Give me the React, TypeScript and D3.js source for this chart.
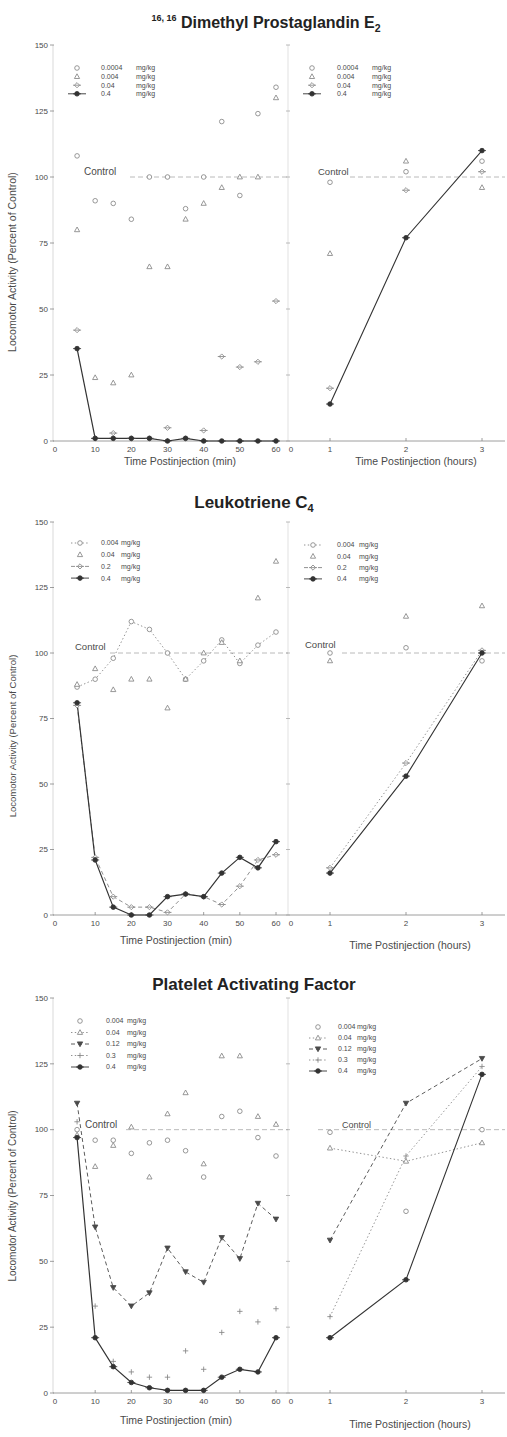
import React from "react";
import * as d3 from "d3";

// Shared axes
const minutes = [5, 10, 15, 20, 25, 30, 35, 40, 45, 50, 55, 60];
const hours = [1, 2, 3];
const yTicks = [0, 25, 50, 75, 100, 125, 150];
const minTicks = [10, 20, 30, 40, 50, 60];
const hourTicks = [1, 2, 3];

// 16,16-dimethyl prostaglandin E2 (percent of control)
const pgeDoses = ["0.0004", "0.004", "0.04", "0.4"];
const pgeMinA = [108, 91, 90, 84, 100, 100, 88, 100, 121, 93, 124, 134];
const pgeMinB = [80, 24, 22, 25, 66, 66, 84, 90, 96, 100, 100, 130];
const pgeMinC = [42, 1, 3, 1, 1, 5, 1, 4, 32, 28, 30, 53];
const pgeMinD = [35, 1, 1, 1, 1, 0, 1, 0, 0, 0, 0, 0];
const pgeHrA = [98, 102, 106];
const pgeHrB = [71, 106, 96];
const pgeHrC = [20, 95, 102];
const pgeHrD = [14, 77, 110];

// Leukotriene C4
const ltDoses = ["0.004", "0.04", "0.2", "0.4"];
const ltMinA = [87, 90, 98, 112, 109, 100, 90, 97, 105, 96, 103, 108];
const ltMinB = [88, 94, 86, 90, 90, 79, 90, 100, 104, 97, 121, 135];
const ltMinC = [80, 22, 7, 3, 3, 1, 8, 7, 4, 11, 21, 23];
const ltMinD = [81, 21, 3, 0, 0, 7, 8, 7, 16, 22, 18, 28];
const ltHrA = [100, 102, 97];
const ltHrB = [97, 114, 118];
const ltHrC = [18, 58, 101];
const ltHrD = [16, 53, 100];

// Platelet activating factor
const pafDoses = ["0.004", "0.04", "0.12", "0.3", "0.4"];
const pafMinA = [100, 96, 96, 91, 95, 96, 92, 82, 105, 107, 97, 90];
const pafMinB = [98, 86, 94, 101, 82, 106, 114, 87, 128, 128, 105, 102];
const pafMinC = [110, 63, 40, 33, 38, 55, 46, 42, 59, 51, 72, 66];
const pafMinD = [103, 33, 12, 8, 6, 6, 16, 9, 23, 31, 27, 32];
const pafMinE = [97, 21, 10, 4, 2, 1, 1, 1, 6, 9, 8, 21];
const pafHrA = [99, 69, 100];
const pafHrB = [93, 88, 95];
const pafHrC = [58, 110, 127];
const pafHrD = [29, 90, 124];
const pafHrE = [21, 43, 121];

const FONT = "'Liberation Sans', Arial, Helvetica, sans-serif";
const INK = "#333333";
const MID = "#858585";
const LIGHT = "#a8a8a8";
const TEXT = "#4a4a4a";

type MarkerKind = "circle" | "triangle" | "diamond" | "dot" | "invtri" | "cross";
type LineKind = "solid" | "dashed" | "dotted" | null;

interface SeriesDef {
  dose: string;
  min: number[];
  hr: number[];
  marker: MarkerKind;
  minLine: LineKind;
  hrLine: LineKind;
  color: string;
}

interface LegendCfg {
  sx: number;
  dx: number;
  mx: number;
  y: number;
  step: number;
}

interface PanelDef {
  title: React.ReactNode;
  y0: number;
  y150: number;
  series: SeriesDef[];
  legendL: LegendCfg;
  legendR: LegendCfg;
  controlL: { tx: number; ty: number; x1: number; size: number };
  controlR: { tx: number; ty: number; x1: number; size: number };
  axisTitle: { x: number; y: number };
  axisTitleHr: { x: number; y: number };
  yTitle: { y: number; size: number };
}

const dash = (k: LineKind) =>
  k === "dashed" ? "4 3" : k === "dotted" ? "1.4 2.4" : undefined;

function Marker({ kind, x, y, color }: { kind: MarkerKind; x: number; y: number; color: string }) {
  const sw = 0.85;
  switch (kind) {
    case "circle":
      return <circle cx={x} cy={y} r={2.3} fill="#fff" stroke={color} strokeWidth={sw} />;
    case "triangle":
      return (
        <path
          d={`M${x},${y - 2.8}L${x + 2.6},${y + 1.9}L${x - 2.6},${y + 1.9}Z`}
          fill="#fff"
          stroke={color}
          strokeWidth={sw}
        />
      );
    case "diamond":
      return (
        <g stroke={color} strokeWidth={sw}>
          <path d={`M${x},${y - 2.6}L${x + 2.6},${y}L${x},${y + 2.6}L${x - 2.6},${y}Z`} fill="#fff" />
          <line x1={x - 4} x2={x + 4} y1={y} y2={y} />
        </g>
      );
    case "dot":
      return (
        <g stroke={color} strokeWidth={sw}>
          <circle cx={x} cy={y} r={2.3} fill={color} />
          <line x1={x - 4} x2={x + 4} y1={y} y2={y} />
        </g>
      );
    case "invtri":
      return (
        <path
          d={`M${x - 2.7},${y - 2.1}L${x + 2.7},${y - 2.1}L${x},${y + 2.7}Z`}
          fill={color}
          stroke={color}
          strokeWidth={sw}
        />
      );
    case "cross":
    default:
      return (
        <g stroke={color} strokeWidth={sw}>
          <line x1={x - 2.7} x2={x + 2.7} y1={y} y2={y} />
          <line x1={x} x2={x} y1={y - 2.7} y2={y + 2.7} />
        </g>
      );
  }
}

function Legend({ series, cfg }: { series: SeriesDef[]; cfg: LegendCfg }) {
  return (
    <g fontSize={7} fill={TEXT}>
      {series.map((s, i) => {
        const yy = cfg.y + i * cfg.step;
        const line = s.minLine || s.hrLine;
        return (
          <g key={s.dose}>
            {line && (
              <line
                x1={cfg.sx - 9}
                x2={cfg.sx + 9}
                y1={yy}
                y2={yy}
                stroke={s.color}
                strokeWidth={0.9}
                strokeDasharray={dash(line)}
              />
            )}
            <Marker kind={s.marker} x={cfg.sx} y={yy} color={s.color} />
            <text x={cfg.dx} y={yy + 2.4}>{s.dose}</text>
            <text x={cfg.mx} y={yy + 2.4}>mg/kg</text>
          </g>
        );
      })}
    </g>
  );
}

function Panel({ p }: { p: PanelDef }) {
  const y = d3.scaleLinear().domain([0, 150]).range([p.y0, p.y150]);
  const xm = d3.scaleLinear().domain([0, 60]).range([59, 276]);
  const xh = d3.scaleLinear().domain([1, 3]).range([330, 482]);
  const lineMin = d3
    .line<number>()
    .x((_, i) => xm(minutes[i]))
    .y((v) => y(v));
  const lineHr = d3
    .line<number>()
    .x((_, i) => xh(hours[i]))
    .y((v) => y(v));
  const axisX = 53;
  const divX = 288;

  return (
    <g>
      {p.title}

      {/* frame: left axis, divider, baseline */}
      <line x1={axisX} x2={axisX} y1={y(150)} y2={y(0)} stroke="#c8c8c8" strokeWidth={0.7} />
      <line x1={divX} x2={divX} y1={y(150)} y2={y(0)} stroke="#d4d4d4" strokeWidth={0.7} />
      <line x1={axisX} x2={505} y1={y(0)} y2={y(0)} stroke={MID} strokeWidth={0.8} />

      {yTicks.map((t) => (
        <g key={t}>
          <line x1={axisX - 3} x2={axisX + 1} y1={y(t)} y2={y(t)} stroke={MID} strokeWidth={0.8} />
          <line x1={divX - 2} x2={divX + 2} y1={y(t)} y2={y(t)} stroke={LIGHT} strokeWidth={0.8} />
          <text x={axisX - 5} y={y(t) + 2.8} textAnchor="end" fontSize={8} fill={TEXT}>
            {t}
          </text>
        </g>
      ))}

      {/* x ticks */}
      <text x={xm(0) - 4} y={y(0) + 11} textAnchor="middle" fontSize={8} fill={TEXT}>0</text>
      {minTicks.map((t) => (
        <g key={t}>
          <line x1={xm(t)} x2={xm(t)} y1={y(0) - 3} y2={y(0)} stroke={MID} strokeWidth={0.8} />
          <text x={xm(t)} y={y(0) + 11} textAnchor="middle" fontSize={8} fill={TEXT}>
            {t}
          </text>
        </g>
      ))}
      <text x={divX + 3} y={y(0) + 11} textAnchor="middle" fontSize={8} fill={TEXT}>0</text>
      {hourTicks.map((t) => (
        <g key={t}>
          <line x1={xh(t)} x2={xh(t)} y1={y(0) - 3} y2={y(0)} stroke={MID} strokeWidth={0.8} />
          <text x={xh(t)} y={y(0) + 11} textAnchor="middle" fontSize={8} fill={TEXT}>
            {t}
          </text>
        </g>
      ))}

      <text x={p.axisTitle.x} y={p.axisTitle.y} textAnchor="middle" fontSize={10.5} fill={TEXT}>
        Time Postinjection (min)
      </text>
      <text x={p.axisTitleHr.x} y={p.axisTitleHr.y} textAnchor="middle" fontSize={10.5} fill={TEXT}>
        Time Postinjection (hours)
      </text>
      <text
        transform={`translate(16,${p.yTitle.y}) rotate(-90)`}
        textAnchor="middle"
        fontSize={p.yTitle.size}
        fill={TEXT}
      >
        Locomotor Activity (Percent of Control)
      </text>

      {/* control reference at 100 % */}
      <text x={p.controlL.tx} y={p.controlL.ty} fontSize={p.controlL.size} fill={TEXT}>
        Control
      </text>
      <line
        x1={p.controlL.x1}
        x2={divX}
        y1={y(100)}
        y2={y(100)}
        stroke={LIGHT}
        strokeWidth={0.8}
        strokeDasharray="5 3"
      />
      <text x={p.controlR.tx} y={p.controlR.ty} fontSize={p.controlR.size} fill={TEXT}>
        Control
      </text>
      <line
        x1={p.controlR.x1}
        x2={505}
        y1={y(100)}
        y2={y(100)}
        stroke={LIGHT}
        strokeWidth={0.8}
        strokeDasharray="5 3"
      />

      {/* series lines */}
      {p.series.map((s) => (
        <g key={"l" + s.dose} fill="none" stroke={s.color}>
          {s.minLine && (
            <path
              d={lineMin(s.min) || ""}
              strokeWidth={s.minLine === "solid" ? 1.2 : 0.9}
              strokeDasharray={dash(s.minLine)}
            />
          )}
          {s.hrLine && (
            <path
              d={lineHr(s.hr) || ""}
              strokeWidth={s.hrLine === "solid" ? 1.1 : 0.9}
              strokeDasharray={dash(s.hrLine)}
            />
          )}
        </g>
      ))}

      {/* series markers */}
      {p.series.map((s) => (
        <g key={"m" + s.dose}>
          {s.min.map((v, i) => (
            <Marker key={"a" + i} kind={s.marker} x={xm(minutes[i])} y={y(v)} color={s.color} />
          ))}
          {s.hr.map((v, i) => (
            <Marker key={"b" + i} kind={s.marker} x={xh(hours[i])} y={y(v)} color={s.color} />
          ))}
        </g>
      ))}

      <Legend series={p.series} cfg={p.legendL} />
      <Legend series={p.series} cfg={p.legendR} />
    </g>
  );
}

const panels: PanelDef[] = [
  {
    title: (
      <text x={266} y={28} textAnchor="middle" fontSize={16} fontWeight="bold" fill="#222">
        <tspan fontSize={9} dy={-7}>16, 16</tspan>
        <tspan dy={7}> Dimethyl Prostaglandin E</tspan>
        <tspan fontSize={10.5} dy={4}>2</tspan>
      </text>
    ),
    y0: 441,
    y150: 45,
    series: [
      { dose: pgeDoses[0], min: pgeMinA, hr: pgeHrA, marker: "circle", minLine: null, hrLine: null, color: MID },
      { dose: pgeDoses[1], min: pgeMinB, hr: pgeHrB, marker: "triangle", minLine: null, hrLine: null, color: MID },
      { dose: pgeDoses[2], min: pgeMinC, hr: pgeHrC, marker: "diamond", minLine: null, hrLine: null, color: MID },
      { dose: pgeDoses[3], min: pgeMinD, hr: pgeHrD, marker: "dot", minLine: "solid", hrLine: "solid", color: INK },
    ],
    legendL: { sx: 77, dx: 101, mx: 136, y: 68, step: 8.6 },
    legendR: { sx: 312, dx: 337, mx: 372, y: 68, step: 8.6 },
    controlL: { tx: 84, ty: 175, x1: 130, size: 10 },
    controlR: { tx: 318, ty: 175, x1: 350, size: 9.5 },
    axisTitle: { x: 180, y: 465 },
    axisTitleHr: { x: 416, y: 465 },
    yTitle: { y: 262, size: 10.5 },
  },
  {
    title: (
      <text x={254} y={508} textAnchor="middle" fontSize={17} fontWeight="bold" fill="#222">
        <tspan>Leukotriene C</tspan>
        <tspan fontSize={11} dy={4}>4</tspan>
      </text>
    ),
    y0: 915,
    y150: 522,
    series: [
      { dose: ltDoses[0], min: ltMinA, hr: ltHrA, marker: "circle", minLine: "dotted", hrLine: null, color: MID },
      { dose: ltDoses[1], min: ltMinB, hr: ltHrB, marker: "triangle", minLine: null, hrLine: null, color: MID },
      { dose: ltDoses[2], min: ltMinC, hr: ltHrC, marker: "diamond", minLine: "dashed", hrLine: "dotted", color: MID },
      { dose: ltDoses[3], min: ltMinD, hr: ltHrD, marker: "dot", minLine: "solid", hrLine: "solid", color: INK },
    ],
    legendL: { sx: 80, dx: 101, mx: 121, y: 543, step: 11.7 },
    legendR: { sx: 313, dx: 337, mx: 359, y: 545, step: 11.3 },
    controlL: { tx: 75, ty: 650, x1: 110, size: 9.5 },
    controlR: { tx: 305, ty: 648, x1: 342, size: 9.5 },
    axisTitle: { x: 176, y: 944 },
    axisTitleHr: { x: 410, y: 949 },
    yTitle: { y: 736, size: 9.5 },
  },
  {
    title: (
      <text x={254} y={990} textAnchor="middle" fontSize={17} fontWeight="bold" fill="#222">
        Platelet Activating Factor
      </text>
    ),
    y0: 1393,
    y150: 998,
    series: [
      { dose: pafDoses[0], min: pafMinA, hr: pafHrA, marker: "circle", minLine: null, hrLine: null, color: MID },
      { dose: pafDoses[1], min: pafMinB, hr: pafHrB, marker: "triangle", minLine: null, hrLine: "dotted", color: MID },
      { dose: pafDoses[2], min: pafMinC, hr: pafHrC, marker: "invtri", minLine: "dashed", hrLine: "dashed", color: "#4a4a4a" },
      { dose: pafDoses[3], min: pafMinD, hr: pafHrD, marker: "cross", minLine: null, hrLine: "dotted", color: MID },
      { dose: pafDoses[4], min: pafMinE, hr: pafHrE, marker: "dot", minLine: "solid", hrLine: "solid", color: INK },
    ],
    legendL: { sx: 80, dx: 106, mx: 127, y: 1021, step: 11.5 },
    legendR: { sx: 318, dx: 338, mx: 357, y: 1027, step: 11 },
    controlL: { tx: 85, ty: 1128, x1: 126, size: 10 },
    controlR: { tx: 342, ty: 1128, x1: 318, size: 9 },
    axisTitle: { x: 176, y: 1424 },
    axisTitleHr: { x: 410, y: 1428 },
    yTitle: { y: 1196, size: 10 },
  },
];

export default function App() {
  return (
    <svg
      width={507}
      height={1437}
      viewBox="0 0 507 1437"
      style={{ position: "absolute", left: 0, top: 0, display: "block" }}
      fontFamily={FONT}
    >
      <rect width={507} height={1437} fill="#fff" />
      {panels.map((p, i) => (
        <Panel key={i} p={p} />
      ))}
    </svg>
  );
}
